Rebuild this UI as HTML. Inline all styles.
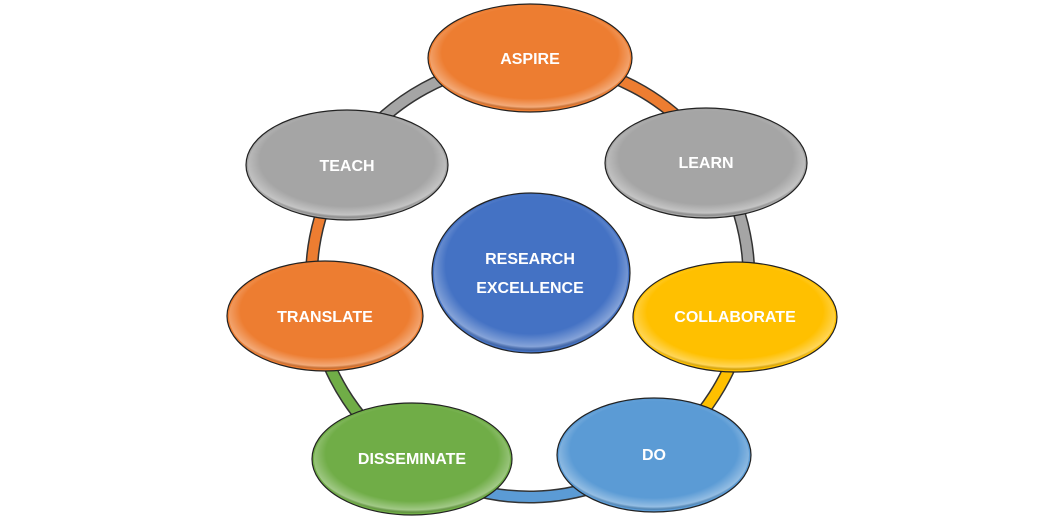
<!DOCTYPE html>
<html><head><style>
html,body{margin:0;padding:0;background:#fff;}
svg{display:block;}
text{font-family:"Liberation Sans",sans-serif;font-weight:bold;fill:#fff;font-size:16px;text-anchor:middle;}
</style></head><body>
<svg width="1064" height="520" viewBox="0 0 1064 520">
<defs>
<radialGradient id="sh" cx="50%" cy="45%" r="55%">
<stop offset="80%" stop-color="#fff" stop-opacity="0"/>
<stop offset="95%" stop-color="#fff" stop-opacity="0.35"/>
<stop offset="100%" stop-color="#000" stop-opacity="0.15"/>
</radialGradient>
</defs>
<g fill="none">
<path d="M530 62 A216 216 0 0 1 713 158" stroke="#333" stroke-width="13"/><path d="M530 62 A216 216 0 0 1 713 158" stroke="#ED7D31" stroke-width="10"/>
<path d="M713 158 A216 216 0 0 1 745 318" stroke="#333" stroke-width="13"/><path d="M713 158 A216 216 0 0 1 745 318" stroke="#A5A5A5" stroke-width="10"/>
<path d="M745 318 A216 216 0 0 1 656 456" stroke="#333" stroke-width="13"/><path d="M745 318 A216 216 0 0 1 656 456" stroke="#FFC000" stroke-width="10"/>
<path d="M656 456 A216 216 0 0 1 410 461" stroke="#333" stroke-width="13"/><path d="M656 456 A216 216 0 0 1 410 461" stroke="#5B9BD5" stroke-width="10"/>
<path d="M410 461 A216 216 0 0 1 315 318" stroke="#333" stroke-width="13"/><path d="M410 461 A216 216 0 0 1 315 318" stroke="#70AD47" stroke-width="10"/>
<path d="M315 318 A216 216 0 0 1 345 163" stroke="#333" stroke-width="13"/><path d="M315 318 A216 216 0 0 1 345 163" stroke="#ED7D31" stroke-width="10"/>
<path d="M345 163 A216 216 0 0 1 530 62" stroke="#333" stroke-width="13"/><path d="M345 163 A216 216 0 0 1 530 62" stroke="#A5A5A5" stroke-width="10"/>
</g>
<g stroke="#222" stroke-width="1.2">
<ellipse cx="531" cy="273" rx="99" ry="80" fill="#4472C4"/>
<ellipse cx="530" cy="58" rx="102" ry="54" fill="#ED7D31"/>
<ellipse cx="706" cy="163" rx="101" ry="55" fill="#A5A5A5"/>
<ellipse cx="735" cy="317" rx="102" ry="55" fill="#FFC000"/>
<ellipse cx="654" cy="455" rx="97" ry="57" fill="#5B9BD5"/>
<ellipse cx="412" cy="459" rx="100" ry="56" fill="#70AD47"/>
<ellipse cx="325" cy="316" rx="98" ry="55" fill="#ED7D31"/>
<ellipse cx="347" cy="165" rx="101" ry="55" fill="#A5A5A5"/>
</g>
<g fill="url(#sh)">
<ellipse cx="531" cy="273" rx="97" ry="78"/>
<ellipse cx="530" cy="58" rx="100" ry="52"/>
<ellipse cx="706" cy="163" rx="99" ry="53"/>
<ellipse cx="735" cy="317" rx="100" ry="53"/>
<ellipse cx="654" cy="455" rx="95" ry="55"/>
<ellipse cx="412" cy="459" rx="98" ry="54"/>
<ellipse cx="325" cy="316" rx="96" ry="53"/>
<ellipse cx="347" cy="165" rx="99" ry="53"/>
</g>
<text x="530" y="264">RESEARCH</text>
<text x="530" y="293">EXCELLENCE</text>
<text x="530" y="64">ASPIRE</text>
<text x="706" y="168">LEARN</text>
<text x="735" y="322">COLLABORATE</text>
<text x="654" y="460">DO</text>
<text x="412" y="464">DISSEMINATE</text>
<text x="325" y="322">TRANSLATE</text>
<text x="347" y="171">TEACH</text>
</svg>
</body></html>
